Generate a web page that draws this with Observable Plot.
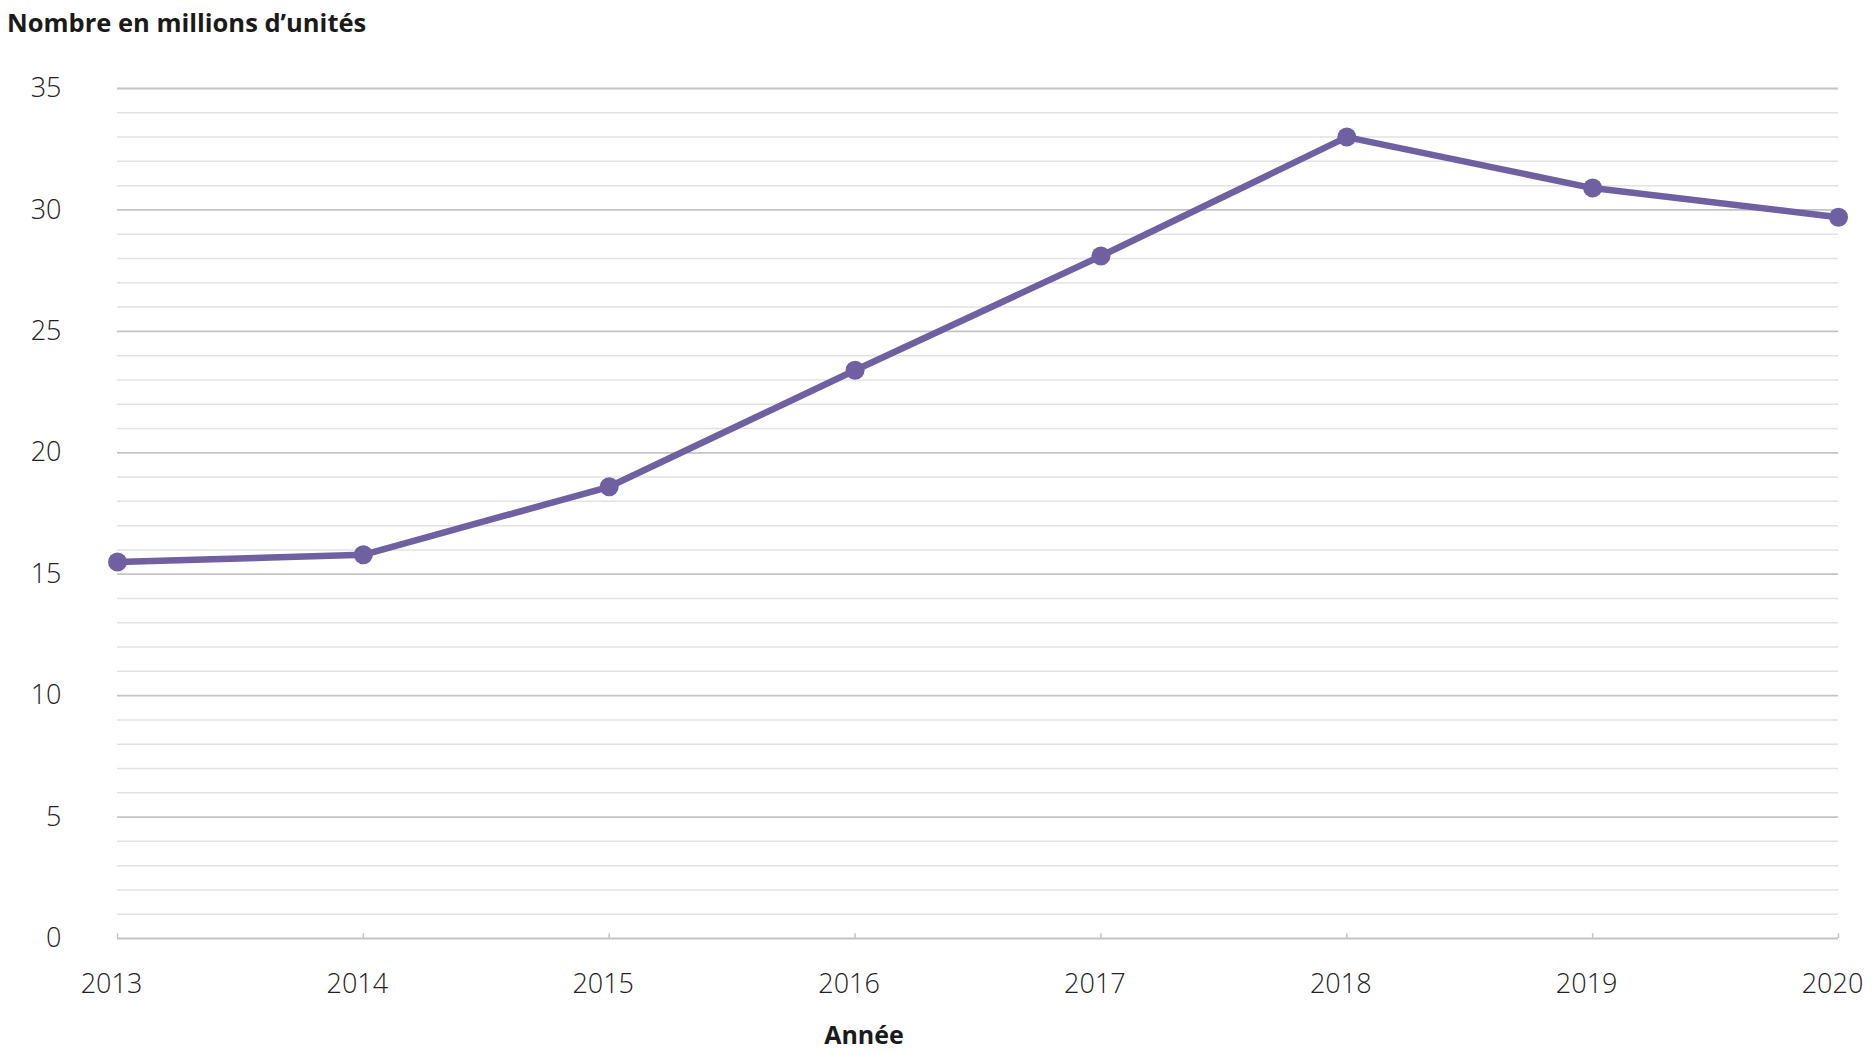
<!DOCTYPE html>
<html>
<head>
<meta charset="utf-8">
<script src="https://cdn.jsdelivr.net/npm/d3@7"></script>
<script src="https://cdn.jsdelivr.net/npm/@observablehq/plot@0.6"></script>
<style>
  html, body { margin: 0; padding: 0; background: #fff; }
  #wrap { position: relative; width: 1872px; height: 1053px; }
  #title { position: absolute; left: 7px; top: 10px; font-family: "Open Sans", sans-serif; font-weight: 700; font-size: 25.5px; line-height: 1; color: #1a1a1a; white-space: nowrap; }
  #chart { position: absolute; left: 0; top: 50px; }
</style>
</head>
<body>
<div id="wrap">
  <div id="title">Nombre en millions d’unités</div>
  <div id="chart"></div>
</div>
<script>
const years = [2013, 2014, 2015, 2016, 2017, 2018, 2019, 2020];
const values = [15.5, 15.8, 18.6, 23.4, 28.1, 33.0, 30.9, 29.7];
const yTicks = [0, 5, 10, 15, 20, 25, 30, 35];
const xLabel = "Année";

const data = years.map((y, i) => ({year: y, value: values[i]}));
const minorTicks = d3.range(0, 36, 1).filter(v => v % 5 !== 0);
const color = "#6f60a2";
const fontFam = "'Open Sans', sans-serif";

const plot = Plot.plot({
  width: 1872,
  height: 1003,
  marginTop: 38,
  marginBottom: 115,
  marginLeft: 117,
  marginRight: 34,
  style: {fontFamily: fontFam, fontSize: "27px", color: "#222", background: "#fff", overflow: "visible"},
  x: {domain: [2013, 2020], label: null},
  y: {domain: [0, 35], label: null},
  marks: [
    Plot.ruleY(minorTicks, {stroke: "#e2e2e2", strokeWidth: 1.5}),
    Plot.ruleY(yTicks, {stroke: "#c4c4c4", strokeWidth: 1.8}),
    Plot.ruleX(years, {x: d => d, y1: 0, y2: 0.2, stroke: "#c4c4c4", strokeWidth: 1.5}),
    Plot.axisY(yTicks, {tickSize: 0, tickPadding: 56, tickFormat: d => String(d), fontWeight: 300, label: null}),
    Plot.axisX(years, {tickSize: 0, tickPadding: 35, dx: -6, tickFormat: d => String(d), fontWeight: 300, label: null}),
    Plot.line(data, {x: "year", y: "value", stroke: color, strokeWidth: 6.5, strokeLinejoin: "round"}),
    Plot.dot(data, {x: "year", y: "value", r: 9.5, fill: color, stroke: "none"}),
    Plot.text([xLabel], {frameAnchor: "bottom", dx: -114, dy: 97, text: d => d, fontWeight: 700, fontSize: 25, fill: "#1a1a1a", lineAnchor: "middle", textAnchor: "middle"})
  ]
});
document.getElementById("chart").appendChild(plot);
</script>
</body>
</html>
